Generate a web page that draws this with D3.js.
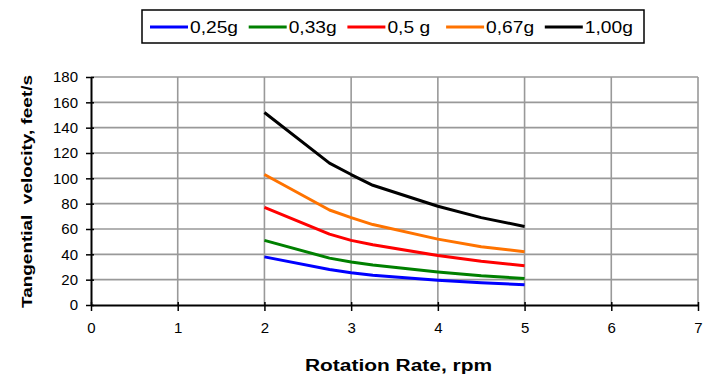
<!DOCTYPE html>
<html>
<head>
<meta charset="utf-8">
<script src="https://cdn.jsdelivr.net/npm/d3@7"></script>
<style>
  body { margin: 0; background: #ffffff; }
  text { font-family: "Liberation Sans", Arial, sans-serif; fill: #000000; }
</style>
</head>
<body>
<script>
// rotation rate (rpm), shared by every series
const rpm = [2, 2.75, 3, 3.25, 4, 4.5, 5];

// legend labels and colours
const seriesNames = ["0,25g", "0,33g", "0,5 g", "0,67g", "1,00g"];
const seriesColors = ["#0000ff", "#008000", "#ff0000", "#ff7300", "#000000"];

// tangential velocity, feet/s, one array per g level
const v025 = [38, 28, 25.5, 23.5, 19.5, 17.5, 16];
const v033 = [51, 37, 34, 31.5, 26, 23, 21];
const v050 = [77, 56, 51, 47.5, 39, 34.5, 31];
const v067 = [103, 75, 69, 63.5, 52, 46, 42];
const v100 = [152, 112, 103, 94.5, 78, 69, 62];

// axis ticks and titles
const xTicks = [0, 1, 2, 3, 4, 5, 6, 7];
const yTicks = [0, 20, 40, 60, 80, 100, 120, 140, 160, 180];
const xTitle = "Rotation Rate, rpm";
const yTitle = "Tangential  velocity, feet/s";


/**
 * Builds the chart once the page is loaded.
 */
window.onload = function() {
    let dims = {w: 708, h: 378, left: 91, right: 698, top: 77, bottom: 305};
    let series = [v025, v033, v050, v067, v100];

    let svg = d3.select("body")
                .append("svg")
                .attr("width", dims.w)
                .attr("height", dims.h);

    let x = d3.scaleLinear()
              .domain([0, 7])
              .range([dims.left, dims.right]);

    let y = d3.scaleLinear()
              .domain([0, 180])
              .range([dims.bottom, dims.top]);

    makeGrid(svg, x, y, dims);
    makeAxes(svg, x, y, dims);
    makeLines(svg, x, y, series);
    makeLegend(svg);
};


/**
 * Draws the grey grid lines.
 */
function makeGrid(svg, x, y, dims) {
    let grid = svg.append("g")
                  .attr("stroke", "#999999")
                  .attr("stroke-width", 1.6);

    grid.selectAll(".hgrid")
        .data(yTicks.slice(1))
        .enter()
        .append("line")
        .attr("x1", dims.left)
        .attr("x2", dims.right)
        .attr("y1", d => y(d))
        .attr("y2", d => y(d));

    grid.selectAll(".vgrid")
        .data(xTicks.slice(1))
        .enter()
        .append("line")
        .attr("x1", d => x(d))
        .attr("x2", d => x(d))
        .attr("y1", dims.top)
        .attr("y2", dims.bottom);
}


/**
 * Draws both axes, tick labels and the axis titles.
 */
function makeAxes(svg, x, y, dims) {
    let yAxis = svg.append("g")
                   .attr("transform", "translate(" + dims.left + ",0)")
                   .call(d3.axisLeft(y)
                           .tickValues(yTicks)
                           .tickFormat(d3.format("d"))
                           .tickSizeInner(5)
                           .tickSizeOuter(0)
                           .tickPadding(8));

    let xAxis = svg.append("g")
                   .attr("transform", "translate(0," + dims.bottom + ")")
                   .call(d3.axisBottom(x)
                           .tickValues(xTicks)
                           .tickFormat(d3.format("d"))
                           .tickSizeInner(6)
                           .tickSizeOuter(0)
                           .tickPadding(11));

    // excel style ticks cross the axis line
    yAxis.selectAll(".tick line").attr("x1", 3).attr("stroke-width", 1.5);
    xAxis.selectAll(".tick line").attr("y1", -3).attr("stroke-width", 1.5);

    [xAxis, yAxis].forEach(function(axis) {
        axis.select(".domain")
            .attr("stroke", "#000000")
            .attr("stroke-width", 2);
        axis.selectAll("text")
            .style("font-size", "15px");
    });

    svg.append("text")
       .attr("x", 305)
       .attr("y", 371)
       .attr("textLength", 187)
       .attr("lengthAdjust", "spacingAndGlyphs")
       .style("font-size", "16px")
       .style("font-weight", "bold")
       .text(xTitle);

    svg.append("text")
       .attr("transform", "translate(32,308) rotate(-90)")
       .attr("textLength", 233)
       .attr("lengthAdjust", "spacingAndGlyphs")
       .style("font-size", "15px")
       .style("font-weight", "bold")
       .style("white-space", "pre")
       .text(yTitle);
}


/**
 * Draws one line per g level.
 */
function makeLines(svg, x, y, series) {
    let line = d3.line()
                 .x((d, i) => x(rpm[i]))
                 .y(d => y(d));

    svg.append("g")
       .selectAll("path")
       .data(series)
       .enter()
       .append("path")
       .attr("d", line)
       .attr("fill", "none")
       .attr("stroke", (d, i) => seriesColors[i])
       .attr("stroke-width", 3)
       .attr("stroke-linejoin", "round");
}


/**
 * Draws the boxed legend above the plot.
 */
function makeLegend(svg) {
    let legend = svg.append("g");

    legend.append("rect")
          .attr("x", 142)
          .attr("y", 10)
          .attr("width", 502)
          .attr("height", 33)
          .attr("fill", "#ffffff")
          .attr("stroke", "#000000")
          .attr("stroke-width", 1.5);

    let items = legend.selectAll(".item")
                      .data(seriesNames)
                      .enter()
                      .append("g")
                      .attr("transform", (d, i) => "translate(" + (150 + i * 98.7) + ",27)");

    items.append("line")
         .attr("x1", 0)
         .attr("x2", 38)
         .attr("stroke", (d, i) => seriesColors[i])
         .attr("stroke-width", 3);

    items.append("text")
         .attr("transform", "translate(40,6) scale(1.2,1)")
         .style("font-size", "16px")
         .text(d => d);
}
</script>
</body>
</html>
